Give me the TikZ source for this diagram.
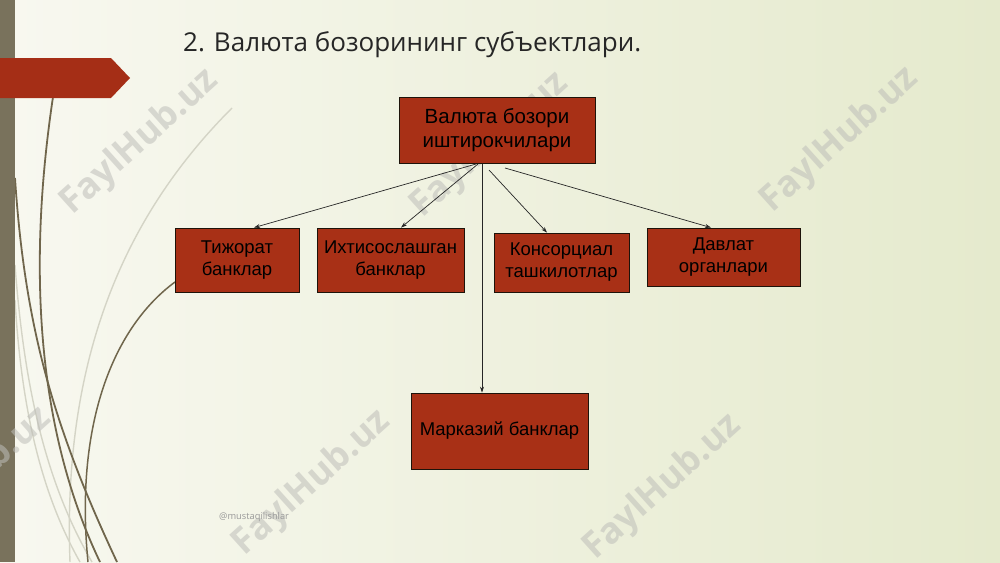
\documentclass[tikz,border=0pt]{standalone}
\usepackage{fontspec}
\setmainfont{Liberation Sans}
\newfontfamily\titlefont{Open Sans}
\newfontfamily\wmfont{Open Sans}
\usetikzlibrary{arrows.meta}
\definecolor{boxred}{RGB}{168,48,22}
\definecolor{bannerred}{RGB}{165,46,22}
\definecolor{stripcol}{RGB}{121,114,92}
\definecolor{curvecol}{RGB}{112,102,76}
\definecolor{fadecol}{RGB}{212,212,198}
\definecolor{bgleft}{RGB}{248,248,240}
\definecolor{bgright}{RGB}{229,234,205}
\definecolor{wmcol}{RGB}{190,190,185}
\tikzset{
  entity/.style={draw=black!85!brown, line width=0.8pt, fill=boxred, inner sep=0pt,
    align=center, font=\fontsize{18.5}{22}\selectfont, text=black},
  link/.style={draw=black!85, line width=0.7pt, -{Stealth[length=6pt,width=4pt]}},
  wmark/.style={text=wmcol, opacity=0.55, rotate=42, font=\wmfont\bfseries\fontsize{36}{40}\selectfont},
  stem/.style={draw=curvecol, line width=1.8pt},
  faint/.style={draw=fadecol, line width=1.4pt}
}
\begin{document}
\begin{tikzpicture}[x=1pt,y=-1pt]
\useasboundingbox (0,0) rectangle (1000,562);
\shade[left color=bgleft, right color=bgright] (0,0) rectangle (1000,562);
% faint curves
\draw[faint] (232,108) .. controls (130,210) and (62,350) .. (70,562);
\draw[faint] (15,265) .. controls (25,400) and (50,490) .. (92,562);
\draw[faint] (15,300) .. controls (22,420) and (45,500) .. (80,562);
% dark curves
\draw[stem] (15,178) .. controls (25,330) and (55,430) .. (117,562);
\draw[stem] (53,97) .. controls (30,250) and (32,420) .. (100,562);
\draw[stem, line width=1.5pt] (175,282) .. controls (110,330) and (75,430) .. (88,562);
% left strip
\fill[stripcol] (0,0) rectangle (15,562);
% banner
\fill[bannerred] (0,58) -- (111,58) -- (130,78) -- (111,98) -- (0,98) -- cycle;
% watermarks
\node[wmark] (w1) at (140,142) {FaylHub.uz};
\node[wmark] (w2) at (490,145) {FaylHub.uz};
\node[wmark] (w3) at (840,140) {FaylHub.uz};
\node[wmark] (w4) at (-27,480) {FaylHub.uz};
\node[wmark] (w5) at (312,483) {FaylHub.uz};
\node[wmark] (w6) at (663,487) {FaylHub.uz};
% title
\node[anchor=base west, inner sep=0pt, font=\titlefont\fontsize{26}{30}\selectfont, text=black!85] (title) at (183,51) {2. Валюта бозорининг субъектлари.};
% credit
\node[anchor=base west, inner sep=0pt, font=\titlefont\fontsize{9.3}{10}\selectfont, text=black!40] (credit) at (219,519) {@mustaqilishlar};
% boxes
\node[entity, minimum width=196pt, minimum height=66pt, font=\fontsize{20.5}{24}\selectfont] (top) at (497,130) {Валюта бозори\\иштирокчилари};
\node[entity, minimum width=124pt, minimum height=64pt] (b1) at (237,260) {Тижорат\\банклар};
\node[entity, minimum width=147pt, minimum height=64pt] (b2) at (390.5,260) {Ихтисослашган\\банклар};
\node[entity, minimum width=135pt, minimum height=59pt] (b3) at (561.5,262.5) {Консорциал\\ташкилотлар};
\node[entity, minimum width=153pt, minimum height=58pt] (b4) at (723.5,257) {Давлат\\органлари};
\node[entity, minimum width=177pt, minimum height=76pt] (b5) at (499.5,431) {Марказий банклар};
% connectors
\coordinate (s1) at (476,164);
\coordinate (s2) at (478,164);
\coordinate (s3) at (482,164);
\coordinate (s4) at (489,170);
\coordinate (s5) at (505,168);
\draw[link] (s1) -- (b1.north -| 254,0);
\draw[link] (s2) -- (b2.north -| 401,0);
\draw[link] (s3) -- (b5.north -| 482,0);
\draw[link] (s4) -- (b3.north -| 547,0);
\draw[link] (s5) -- (b4.north -| 711,0);
\end{tikzpicture}
\end{document}
